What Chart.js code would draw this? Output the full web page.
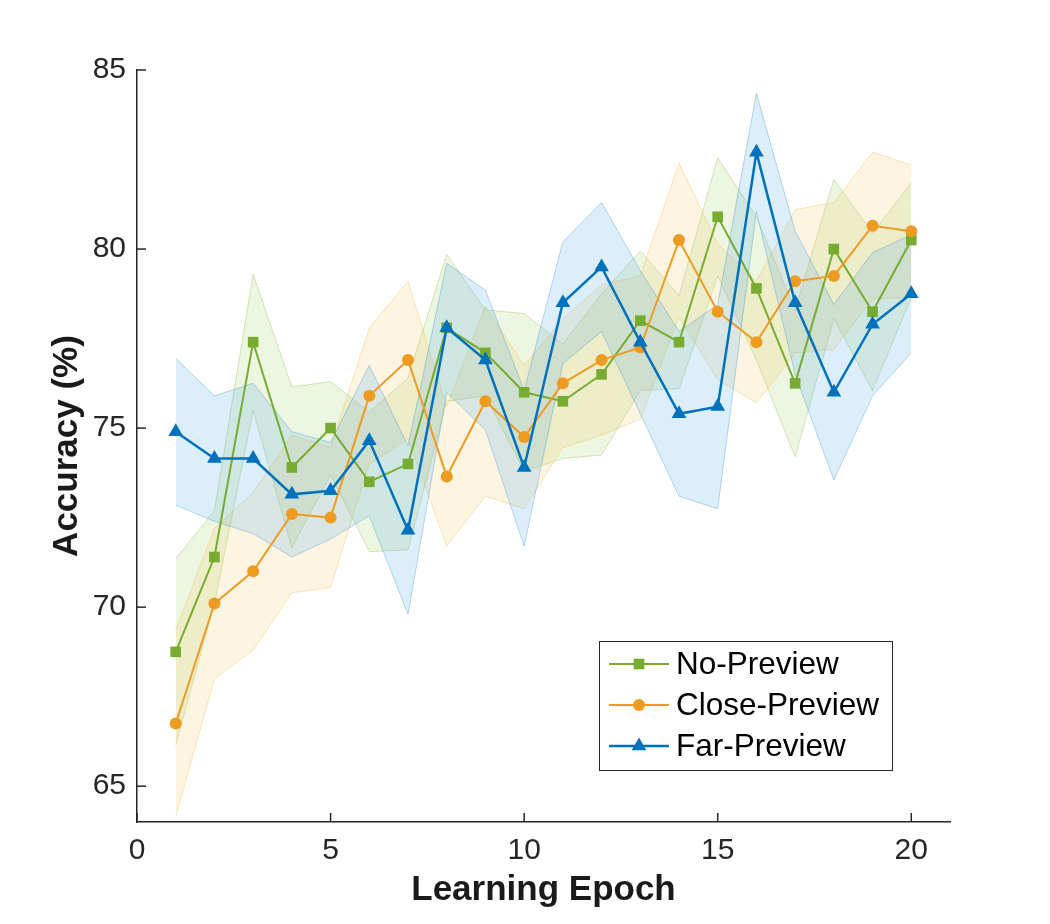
<!DOCTYPE html>
<html>
<head>
<meta charset="utf-8">
<script src="https://cdn.jsdelivr.net/npm/chart.js@4.4.0/dist/chart.umd.min.js"></script>
<style>
    html, body { margin: 0; padding: 0; background: #fff; }
    #wrap { width: 1050px; height: 924px; }
</style>
</head>
<body>
<div id="wrap"><canvas id="accChart" width="1050" height="924"></canvas></div>
<script>
// 数据
const epochs = [1, 2, 3, 4, 5, 6, 7, 8, 9, 10, 11, 12, 13, 14, 15, 16, 17, 18, 19, 20];

const noPreviewMean  = [68.75, 71.4, 77.4, 73.9, 75.0, 73.5, 74.0, 77.8, 77.1, 76.0, 75.75, 76.5, 78.0, 77.4, 80.9, 78.9, 76.25, 80.0, 78.25, 80.25];
const noPreviewUpper = [71.35, 72.7, 79.3, 76.15, 76.3, 75.45, 76.4, 79.85, 78.3, 78.2, 77.35, 78.75, 79.95, 78.7, 82.55, 80.9, 78.3, 81.95, 80.45, 81.85];
const noPreviewLower = [66.15, 70.1, 75.5, 71.65, 73.7, 71.55, 71.6, 75.75, 75.9, 73.8, 74.15, 74.25, 76.05, 76.1, 79.25, 76.9, 74.2, 78.05, 76.05, 78.65];

const closeMean  = [66.75, 70.1, 71.0, 72.6, 72.5, 75.9, 76.9, 73.65, 75.75, 74.75, 76.25, 76.9, 77.25, 80.25, 78.25, 77.4, 79.1, 79.25, 80.65, 80.5];
const closeUpper = [69.35, 72.2, 73.2, 74.8, 74.45, 77.8, 79.1, 75.6, 78.4, 76.75, 78.05, 79.0, 79.25, 82.4, 80.15, 79.1, 81.1, 81.3, 82.7, 82.35];
const closeLower = [64.15, 68.0, 68.8, 70.4, 70.55, 74.0, 74.7, 71.7, 73.1, 72.75, 74.45, 74.8, 75.25, 78.1, 76.35, 75.7, 77.1, 77.2, 78.6, 78.65];

const farMean  = [74.9, 74.15, 74.15, 73.15, 73.25, 74.65, 72.15, 77.8, 76.9, 73.9, 78.5, 79.5, 77.4, 75.4, 75.6, 82.7, 78.5, 76.0, 77.9, 78.75];
const farUpper = [76.95, 75.9, 76.25, 74.9, 74.6, 76.75, 74.5, 79.6, 78.85, 76.05, 80.2, 81.3, 79.4, 77.7, 78.45, 84.35, 80.5, 78.45, 79.9, 80.4];
const farLower = [72.85, 72.4, 72.05, 71.4, 71.9, 72.55, 69.8, 76.0, 74.95, 71.7, 76.8, 77.7, 75.4, 73.1, 72.75, 81.05, 76.5, 73.55, 75.9, 77.1];

const xTicks = [0, 5, 10, 15, 20];
const yTicks = [65, 70, 75, 80, 85];

const FONT = "'Liberation Sans', Arial, Helvetica, sans-serif";
const AXIS_COLOR = '#262626';

const toPts = arr => epochs.map((e, i) => ({ x: e, y: arr[i] }));

// 阴影带 (上界填充到下界)
function band(upper, lower, fillColor, edgeColor, order) {
    return [
        {
            data: toPts(upper), borderColor: edgeColor, borderWidth: 1,
            backgroundColor: fillColor, fill: '+1', pointRadius: 0, tension: 0, order: order
        },
        {
            data: toPts(lower), borderColor: edgeColor, borderWidth: 1,
            fill: false, pointRadius: 0, tension: 0, order: order
        }
    ];
}

function meanLine(label, arr, color, style, radius, width, order) {
    return {
        label: label, data: toPts(arr), borderColor: color, backgroundColor: color,
        borderWidth: width, pointStyle: style, pointRadius: radius, pointBorderWidth: 0,
        pointBackgroundColor: color, fill: false, tension: 0, order: order, showInLegend: true
    };
}

// 内侧刻度线
const innerTicks = {
    id: 'innerTicks',
    afterDraw(chart) {
        const { ctx, scales: { x, y } } = chart;
        ctx.save();
        ctx.strokeStyle = AXIS_COLOR;
        ctx.lineWidth = 1.5;
        x.ticks.forEach(t => {
            const px = x.getPixelForValue(t.value);
            ctx.beginPath(); ctx.moveTo(px, x.top); ctx.lineTo(px, x.top - 9); ctx.stroke();
        });
        y.ticks.forEach(t => {
            const py = y.getPixelForValue(t.value);
            ctx.beginPath(); ctx.moveTo(y.right, py); ctx.lineTo(y.right + 9, py); ctx.stroke();
        });
        ctx.restore();
    }
};

// 图例 (右下角带框)
const boxLegend = {
    id: 'boxLegend',
    afterDraw(chart) {
        const { ctx } = chart;
        const items = chart.data.datasets.filter(d => d.showInLegend);
        const box = { x: 599.5, y: 641.5, w: 293, h: 129 };
        ctx.save();
        ctx.fillStyle = '#fff';
        ctx.fillRect(box.x, box.y, box.w, box.h);
        ctx.strokeStyle = AXIS_COLOR;
        ctx.lineWidth = 1;
        ctx.strokeRect(box.x, box.y, box.w, box.h);
        items.forEach((d, i) => {
            const cy = 664 + i * 41;
            ctx.strokeStyle = d.borderColor;
            ctx.lineWidth = d.borderWidth;
            ctx.beginPath(); ctx.moveTo(609, cy); ctx.lineTo(669, cy); ctx.stroke();
            ctx.fillStyle = d.pointBackgroundColor;
            Chart.helpers.drawPoint(ctx, { pointStyle: d.pointStyle, radius: d.pointRadius, rotation: 0, borderWidth: 0 }, 639, cy);
            ctx.fillStyle = '#000';
            ctx.font = '31.5px ' + FONT;
            ctx.textBaseline = 'middle';
            ctx.textAlign = 'left';
            ctx.fillText(d.label, 676, cy + 1);
        });
        ctx.restore();
    }
};

const datasets = [
    ...band(noPreviewUpper, noPreviewLower, 'rgba(150, 200, 80, 0.17)', 'rgba(119, 172, 48, 0.30)', 6),
    ...band(closeUpper, closeLower, 'rgba(240, 190, 60, 0.15)', 'rgba(237, 177, 32, 0.30)', 5),
    ...band(farUpper, farLower, 'rgba(80, 170, 230, 0.20)', 'rgba(0, 114, 189, 0.28)', 4),
    meanLine('No-Preview', noPreviewMean, '#77AC30', 'rect', 7.5, 2, 3),
    meanLine('Close-Preview', closeMean, '#EE9B22', 'circle', 6, 2, 2),
    meanLine('Far-Preview', farMean, '#0072BD', 'triangle', 8.5, 2.5, 1)
];

new Chart(document.getElementById('accChart'), {
    type: 'line',
    data: { datasets: datasets },
    options: {
        responsive: false,
        animation: false,
        layout: { padding: { top: 70, right: 100, left: 0, bottom: 0 } },
        plugins: {
            legend: { display: false },
            tooltip: { enabled: false }
        },
        scales: {
            x: {
                type: 'linear', min: 0, max: 21,
                afterBuildTicks: s => { s.ticks = xTicks.map(v => ({ value: v })); },
                afterFit: s => { s.height = 102; },
                grid: { drawOnChartArea: false, drawTicks: false },
                border: { display: true, color: AXIS_COLOR, width: 1.5 },
                ticks: { color: AXIS_COLOR, padding: 11, font: { family: FONT, size: 30 } },
                title: {
                    display: true, text: 'Learning Epoch', color: '#1a1a1a',
                    font: { family: FONT, size: 35, weight: 'bold' },
                    padding: { top: 0, bottom: 13 }
                }
            },
            y: {
                type: 'linear', min: 64, max: 85,
                afterBuildTicks: s => { s.ticks = yTicks.map(v => ({ value: v })); },
                afterFit: s => { s.width = 137; },
                grid: { drawOnChartArea: false, drawTicks: false },
                border: { display: true, color: AXIS_COLOR, width: 1.5 },
                ticks: { color: AXIS_COLOR, padding: 11, font: { family: FONT, size: 30 } },
                title: {
                    display: true, text: 'Accuracy (%)', color: '#1a1a1a',
                    font: { family: FONT, size: 35, weight: 'bold' },
                    padding: { top: 46, bottom: 0 }
                }
            }
        }
    },
    plugins: [innerTicks, boxLegend]
});
</script>
</body>
</html>
